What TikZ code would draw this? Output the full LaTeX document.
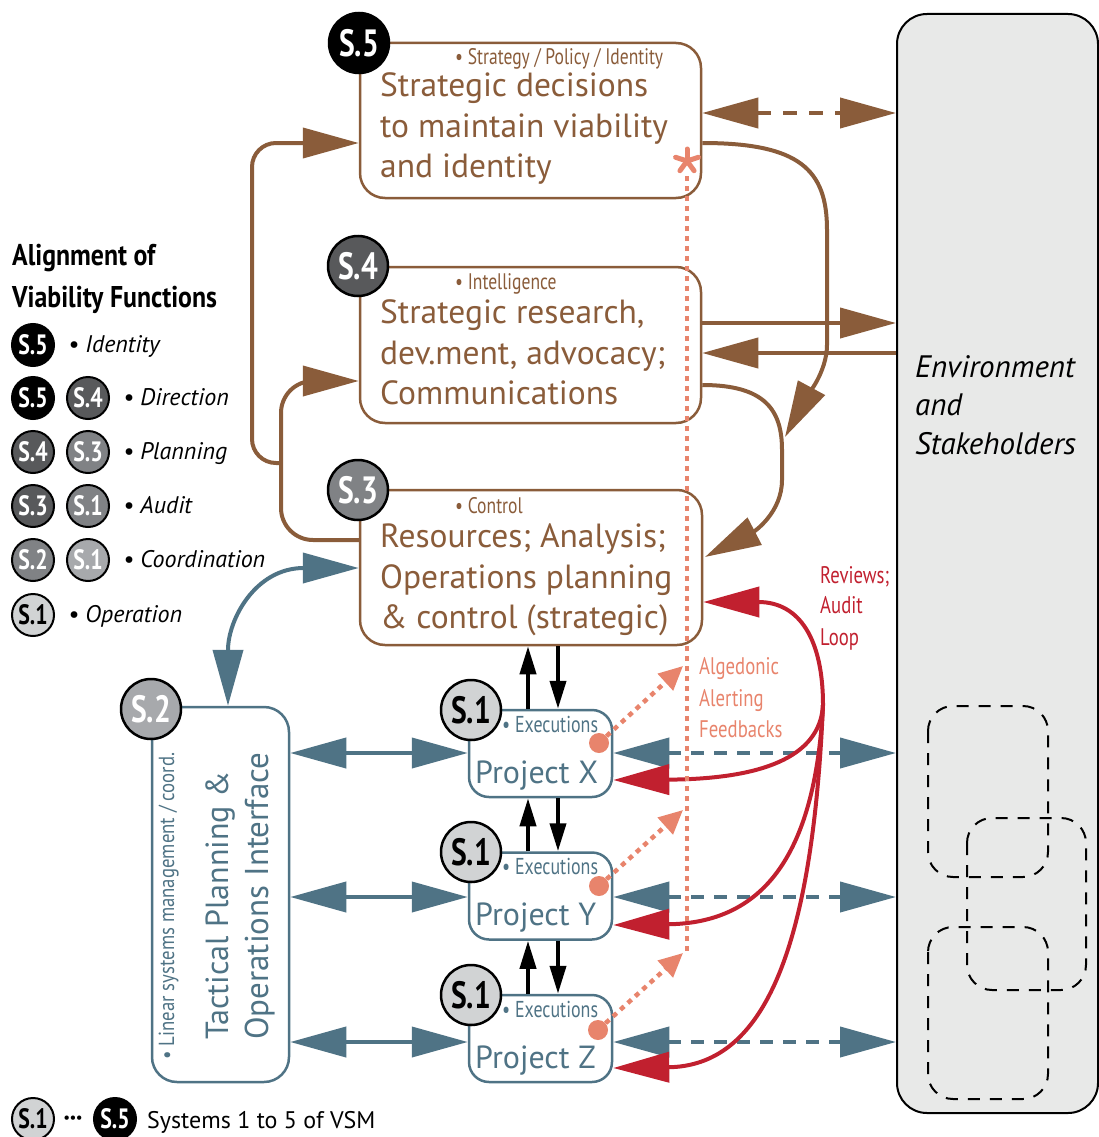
\documentclass[tikz,border=0pt]{standalone}
\usepackage{fontspec}
\setmainfont{PT Sans}
\newfontfamily\cond[FakeStretch=0.78]{PT Sans}
\newfontfamily\condt[FakeStretch=0.86]{PT Sans}
\usetikzlibrary{arrows.meta,calc}
\definecolor{brn}{HTML}{8A5C3A}
\definecolor{blu}{HTML}{4F7385}
\definecolor{redA}{HTML}{C1202F}
\definecolor{sal}{HTML}{E8846C}
\definecolor{envf}{HTML}{E8E9E8}
\definecolor{gA}{HTML}{58595B}
\definecolor{gB}{HTML}{808285}
\definecolor{gC}{HTML}{A7A9AC}
\definecolor{gD}{HTML}{D1D3D4}
\tikzset{
  sysbox/.style={draw=brn, line width=2.5pt, rounded corners=25pt, fill=white, inner sep=0pt},
  opbox/.style={draw=blu, line width=2.5pt, fill=white, inner sep=0pt},
  badge/.style={circle, draw=black, line width=2.5pt, minimum size=60pt, inner sep=0pt, text=white, font=\cond\bfseries\fontsize{38}{38}\selectfont},
  lbadge/.style={circle, draw=black, line width=2pt, minimum size=42pt, inner sep=0pt, text=white, font=\cond\bfseries\fontsize{28}{28}\selectfont},
  bigtxt/.style={anchor=base west, inner sep=0pt, font=\fontsize{33.5}{33.5}\selectfont},
  smalltxt/.style={anchor=base west, inner sep=0pt, font=\cond\fontsize{22.5}{22.5}\selectfont},
  projtxt/.style={anchor=base west, inner sep=0pt, text=blu, font=\fontsize{32}{32}\selectfont},
  legtxt/.style={anchor=base west, inner sep=0pt, font=\itshape\fontsize{24}{24}\selectfont},
  envtxt/.style={anchor=base west, inner sep=0pt, font=\itshape\fontsize{31}{31}\selectfont},
  notetxt/.style={anchor=base west, inner sep=0pt, font=\cond\fontsize{24}{24}\selectfont},
  bigtip/.tip={Triangle[length=56pt,width=30pt]},
  brnarrow/.style={draw=brn, line width=4pt, -bigtip},
  bludbl/.style={draw=blu, line width=4pt, bigtip-bigtip},
  redarrow/.style={draw=redA, line width=4pt, -bigtip},
  blkarrow/.style={draw=black, line width=4pt, -{Triangle[length=28pt,width=16pt]}},
  salarrow/.style={draw=sal, line width=4.5pt, dash pattern=on 5pt off 5pt, -{Triangle[length=24pt,width=22pt]}},
  dashrect/.style={draw=black, line width=2pt, dash pattern=on 12pt off 10pt, rounded corners=25pt},
}
\begin{document}
\begin{tikzpicture}[x=1pt,y=-1pt]
\useasboundingbox (0,0) rectangle (1099,1137);

% ---------- environment ----------
\node[draw=black, line width=2pt, fill=envf, rounded corners=30pt, minimum width=201pt, minimum height=1099pt, inner sep=0pt] (env) at (997.5,563.5) {};
\draw[dashrect] (928,706) rectangle (1048,877);
\draw[dashrect] (967,818) rectangle (1086,990);
\draw[dashrect] (928,927) rectangle (1048,1099);
\node[envtxt] (envA) at (915,377) {Environment};
\node[envtxt] (envB) at (915,415) {and};
\node[envtxt] (envC) at (915,454) {Stakeholders};

% ---------- system boxes ----------
\node[sysbox, minimum width=341pt, minimum height=155pt] (s5) at (530.5,120.5) {};
\node[sysbox, minimum width=341pt, minimum height=156pt] (s4) at (530.5,345) {};
\node[sysbox, minimum width=342pt, minimum height=155pt] (s3) at (531,567.5) {};
\node[opbox, rounded corners=25pt, minimum width=137pt, minimum height=375pt] (s2) at (220.5,894.5) {};
\node[opbox, rounded corners=20pt, minimum width=143pt, minimum height=87pt] (pX) at (540.5,753.5) {};
\node[opbox, rounded corners=20pt, minimum width=143pt, minimum height=87pt] (pY) at (540.5,896) {};
\node[opbox, rounded corners=20pt, minimum width=143pt, minimum height=87pt] (pZ) at (540.5,1038.5) {};

% ---------- box texts ----------
\node[smalltxt, text=brn] (l5) at (455,65) {• Strategy / Policy / Identity};
\node[bigtxt, text=brn] (t5a) at (380,97) {Strategic decisions};
\node[bigtxt, text=brn] (t5b) at (380,138) {to maintain viability};
\node[bigtxt, text=brn] (t5c) at (380,177) {and identity};

\node[smalltxt, text=brn] (l4) at (455,289) {• Intelligence};
\node[bigtxt, text=brn] (t4a) at (380,323) {Strategic research,};
\node[bigtxt, text=brn] (t4b) at (380,364) {dev.ment, advocacy;};
\node[bigtxt, text=brn] (t4c) at (380,404) {Communications};

\node[smalltxt, text=brn] (l3) at (455,513) {• Control};
\node[bigtxt, text=brn] (t3a) at (380,547) {Resources; Analysis;};
\node[bigtxt, text=brn] (t3b) at (380,588) {Operations planning};
\node[bigtxt, text=brn] (t3c) at (380,628) {\& control (strategic)};

\node[smalltxt, text=blu, rotate=90, font=\condt\fontsize{21.8}{21.8}\selectfont] (l2) at (174,1060) {• Linear systems management / coord.};
\node[projtxt, rotate=90] (t2a) at (228,1040) {Tactical Planning \&};
\node[projtxt, rotate=90, font=\fontsize{33}{33}\selectfont] (t2b) at (268,1040) {Operations Interface};

\node[smalltxt, text=blu, font=\cond\fontsize{23}{23}\selectfont] (eX) at (502,732) {• Executions};
\node[smalltxt, text=blu, font=\cond\fontsize{23}{23}\selectfont] (eY) at (502,874) {• Executions};
\node[smalltxt, text=blu, font=\cond\fontsize{23}{23}\selectfont] (eZ) at (502,1017) {• Executions};
\node[projtxt] (tX) at (475,783) {Project X};
\node[projtxt] (tY) at (475,925) {Project Y};
\node[projtxt] (tZ) at (475,1068) {Project Z};

% ---------- badges ----------
\node[badge, fill=black] (b5) at (359,43) {S.5};
\node[badge, fill=gA] (b4) at (358,266) {S.4};
\node[badge, fill=gB] (b3) at (358,490) {S.3};
\node[badge, fill=gC] (b2) at (151,709) {S.2};
\node[badge, fill=gD, text=black] (b1x) at (471,710) {S.1};
\node[badge, fill=gD, text=black] (b1y) at (471,852) {S.1};
\node[badge, fill=gD, text=black] (b1z) at (471,995) {S.1};

% ---------- legend ----------
\node[anchor=base west, inner sep=0pt, font=\condt\bfseries\fontsize{30}{30}\selectfont] (ttlA) at (12,265) {Alignment of};
\node[anchor=base west, inner sep=0pt, font=\condt\bfseries\fontsize{30}{30}\selectfont] (ttlB) at (12,307) {Viability Functions};

\node[lbadge, fill=black] (r1a) at (33,345) {S.5};
\node[legtxt] (r1t) at (68,352) {• Identity};
\node[lbadge, fill=black] (r2a) at (33,398) {S.5};
\node[lbadge, fill=gA] (r2b) at (88,398) {S.4};
\node[legtxt] (r2t) at (123,405) {• Direction};
\node[lbadge, fill=gA] (r3a) at (33,452) {S.4};
\node[lbadge, fill=gB] (r3b) at (88,452) {S.3};
\node[legtxt] (r3t) at (123,459) {• Planning};
\node[lbadge, fill=gA] (r4a) at (33,506) {S.3};
\node[lbadge, fill=gB] (r4b) at (88,506) {S.1};
\node[legtxt] (r4t) at (123,513) {• Audit};
\node[lbadge, fill=gB] (r5a) at (33,560) {S.2};
\node[lbadge, fill=gC] (r5b) at (88,560) {S.1};
\node[legtxt] (r5t) at (123,567) {• Coordination};
\node[lbadge, fill=gD, text=black] (r6a) at (33,615) {S.1};
\node[legtxt] (r6t) at (68,622) {• Operation};

\node[lbadge, fill=gD, text=black] (f1) at (33,1119) {S.1};
\node[inner sep=0pt, font=\bfseries\fontsize{14}{14}\selectfont] (fdots) at (73,1119) {•••};
\node[lbadge, fill=black] (f5) at (115,1119) {S.5};
\node[anchor=base west, inner sep=0pt, font=\fontsize{24}{24}\selectfont] (ftxt) at (147,1128) {Systems 1 to 5 of VSM};

% ---------- notes ----------
\node[notetxt, text=redA] (rvA) at (820,583) {Reviews;};
\node[notetxt, text=redA] (rvB) at (820,613) {Audit};
\node[notetxt, text=redA] (rvC) at (820,645) {Loop};
\node[notetxt, text=sal] (alA) at (699,674) {Algedonic};
\node[notetxt, text=sal] (alB) at (699,706) {Alerting};
\node[notetxt, text=sal] (alC) at (699,737) {Feedbacks};

% ---------- brown connectors ----------
\draw[brnarrow, rounded corners=24pt] (281,463) -- (252,463) -- (252,143) -- (s5.west |- 0,143);
\draw[brnarrow, rounded corners=32pt] (s3.west |- 0,540) -- (281,540) -- (281,381) -- (s4.west |- 0,381);
\draw[draw=brn, line width=4pt, dash pattern=on 14pt off 12pt, bigtip-bigtip] (s5.east |- 0,113) -- (env.west |- 0,113);
\draw[brnarrow] (s4.east |- 0,323) -- (env.west |- 0,323);
\draw[brnarrow] (env.west |- 0,353) -- (s4.east |- 0,353);
\draw[brnarrow] (s5.east |- 0,143) .. controls (800,143) and (827,170) .. (827,230) -- (827,345) .. controls (827,372) and (806,398) .. (785,437);
\draw[brnarrow] (s4.east |- 0,385) .. controls (765,385) and (782,410) .. (782,450) -- (782,480) .. controls (782,512) and (755,531) .. (705,557);

% ---------- blue connectors ----------
\draw[bludbl] (s3.west |- 0,568) .. controls (255,568) and (228,620) .. (228,650) -- (s2.north -| 228,0);
\draw[bludbl] (s2.east |- 0,753) -- (pX.west |- 0,753);
\draw[bludbl] (s2.east |- 0,897) -- (pY.west |- 0,897);
\draw[bludbl] (s2.east |- 0,1042) -- (pZ.west |- 0,1042);
\draw[bludbl, dash pattern=on 13pt off 10pt] (pX.east |- 0,753) -- (env.west |- 0,753);
\draw[bludbl, dash pattern=on 13pt off 10pt] (pY.east |- 0,897) -- (env.west |- 0,897);
\draw[bludbl, dash pattern=on 13pt off 10pt] (pZ.east |- 0,1042) -- (env.west |- 0,1042);

% ---------- black connectors ----------
\draw[blkarrow] (pX.north -| 528,0) -- (s3.south -| 528,0);
\draw[blkarrow] (s3.south -| 558,0) -- (pX.north -| 558,0);
\draw[blkarrow] (pY.north -| 528,0) -- (pX.south -| 528,0);
\draw[blkarrow] (pX.south -| 558,0) -- (pY.north -| 558,0);
\draw[blkarrow] (pZ.north -| 528,0) -- (pY.south -| 528,0);
\draw[blkarrow] (pY.south -| 558,0) -- (pZ.north -| 558,0);

% ---------- red connectors ----------
\coordinate (hub) at (823,705);
\draw[redarrow] (hub) .. controls (823,640) and (800,602) .. (s3.east |- 0,602);
\draw[redarrow] (hub) .. controls (820,758) and (760,779) .. (pX.east |- 0,780);
\draw[redarrow] (hub) .. controls (815,860) and (760,923) .. (pY.east |- 0,925);
\draw[redarrow] (hub) .. controls (812,960) and (760,1066) .. (pZ.east |- 0,1068);

% ---------- algedonic channel ----------
\coordinate (ast) at (687,161);
\coordinate (chEnd) at (687,952);
\draw[sal, line width=4.5pt, dash pattern=on 5pt off 5pt] (687,176) -- (chEnd);
\foreach \a in {-90,-18,-162,126,54} \draw[sal, line width=5pt, line cap=round] (ast) -- ++(\a:12);
\node[circle, fill=sal, minimum size=20pt, inner sep=0pt] (dX) at (599,743) {};
\node[circle, fill=sal, minimum size=20pt, inner sep=0pt] (dY) at (599,886) {};
\node[circle, fill=sal, minimum size=20pt, inner sep=0pt] (dZ) at (598,1030) {};
\coordinate (aX) at (683,666);
\coordinate (aY) at (683,810);
\coordinate (aZ) at (683,953);
\draw[salarrow] (dX) -- (aX);
\draw[salarrow] (dY) -- (aY);
\draw[salarrow] (dZ) -- (aZ);
\end{tikzpicture}
\end{document}
